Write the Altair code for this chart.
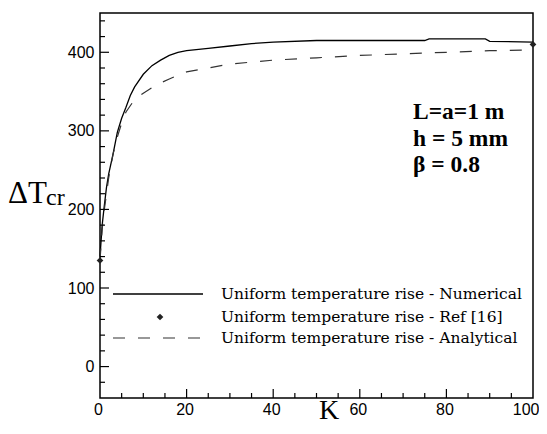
import altair as alt
import pandas as pd

# ---- data ----
num_k = [0, 0.5, 1, 1.5, 2, 3, 4, 5, 6, 7, 8, 10, 12, 14, 16, 18, 20, 25, 30, 35, 40, 50, 60, 70, 75, 76, 89, 90, 100]
num_v = [140, 180, 205, 228, 245, 270, 298, 316, 330, 345, 356, 372, 383, 390, 396, 400, 402, 405, 408, 411, 413, 415, 415, 415, 415, 417, 417, 414, 413]

ana_k = [0, 0.5, 1, 2, 3, 4, 5, 6, 8, 10, 12, 14, 16, 18, 20, 25, 30, 40, 50, 60, 70, 80, 90, 100]
ana_v = [135, 175, 200, 240, 270, 292, 310, 324, 340, 348, 355, 361, 366, 371, 375, 380, 385, 390, 393, 396, 398, 400, 402, 403]

ref_k = [0, 100]
ref_v = [135, 410]

x_major = [0, 20, 40, 60, 80, 100]
x_minor = [k for k in range(5, 100, 5) if k % 20 != 0]
y_major = [0, 100, 200, 300, 400]
y_minor = [v for v in range(-20, 441, 20) if v % 100 != 0]

legend_labels = ["Uniform temperature rise - Numerical",
                 "Uniform temperature rise - Ref [16]",
                 "Uniform temperature rise - Analytical"]
notes = ["L=a=1 m", "h = 5 mm", "β = 0.8"]

W, H = 433, 385
xs = alt.Scale(domain=[0, 100], nice=False, zero=False)
ys = alt.Scale(domain=[-40, 450], nice=False, zero=False)

num_df = pd.DataFrame({"K": num_k, "T": num_v})
ana_df = pd.DataFrame({"K": ana_k, "T": ana_v})
ref_df = pd.DataFrame({"K": ref_k, "T": ref_v})

xaxis = alt.Axis(values=x_major, tickSize=0, domain=False, grid=False, labelFont="Liberation Sans",
                 labelFontSize=16, labelColor="black", labelPadding=3, title=None, labelFlush=False,
                 labelAlign=alt.expr("datum.value == 100 ? 'right' : 'center'"),
                 labelOffset=alt.expr("datum.value == 100 ? 6 : -2"))
yaxis = alt.Axis(values=y_major, tickSize=0, domain=False, grid=False, labelFont="Liberation Sans",
                 labelFontSize=16, labelColor="black", labelPadding=6, title=None)

numerical = alt.Chart(num_df).mark_line(color="black", strokeWidth=1.3, interpolate="linear").encode(
    x=alt.X("K:Q", scale=xs, axis=xaxis),
    y=alt.Y("T:Q", scale=ys, axis=yaxis),
)
analytical = alt.Chart(ana_df).mark_line(color="#333333", strokeWidth=1.2, strokeDash=[12, 13]).encode(
    x=alt.X("K:Q", scale=xs), y=alt.Y("T:Q", scale=ys)
)
refpts = alt.Chart(ref_df).mark_point(shape="diamond", filled=True, color="#222222", size=45, opacity=1).encode(
    x=alt.X("K:Q", scale=xs), y=alt.Y("T:Q", scale=ys)
)

# inward ticks
xmaj = alt.Chart(pd.DataFrame({"K": x_major[1:-1]})).mark_rule(color="black", strokeWidth=1.2).encode(
    x=alt.X("K:Q", scale=xs), y=alt.value(H), y2=alt.value(H - 9))
xmin = alt.Chart(pd.DataFrame({"K": x_minor})).mark_rule(color="black", strokeWidth=1.2).encode(
    x=alt.X("K:Q", scale=xs), y=alt.value(H), y2=alt.value(H - 5))
ymaj = alt.Chart(pd.DataFrame({"T": y_major})).mark_rule(color="black", strokeWidth=1.2).encode(
    y=alt.Y("T:Q", scale=ys), x=alt.value(0), x2=alt.value(9))
ymin = alt.Chart(pd.DataFrame({"T": y_minor})).mark_rule(color="black", strokeWidth=1.2).encode(
    y=alt.Y("T:Q", scale=ys), x=alt.value(0), x2=alt.value(5))

# legend (drawn inside the plot)
leg_y = [281, 304, 325]
leg1 = alt.Chart(pd.DataFrame({"a": [0]})).mark_rule(color="black", strokeWidth=1.3).encode(
    x=alt.value(13), x2=alt.value(103), y=alt.value(leg_y[0]))
leg2 = alt.Chart(pd.DataFrame({"a": [0]})).mark_point(shape="diamond", filled=True, color="#222222", size=45, opacity=1).encode(
    x=alt.value(60), y=alt.value(leg_y[1]))
leg3 = alt.Chart(pd.DataFrame({"a": [0]})).mark_rule(color="#333333", strokeWidth=1.2, strokeDash=[12, 13]).encode(
    x=alt.value(13), x2=alt.value(103), y=alt.value(leg_y[2]))
leg_texts = [
    alt.Chart(pd.DataFrame({"t": [lab]})).mark_text(
        font="DejaVu Serif", fontSize=15.5, align="left", baseline="middle", color="black").encode(
        x=alt.value(121), y=alt.value(yy), text="t:N")
    for lab, yy in zip(legend_labels, leg_y)
]

note_y = [99, 126, 152]
note_texts = [
    alt.Chart(pd.DataFrame({"t": [n]})).mark_text(
        font="Liberation Serif", fontSize=23.5, fontWeight="bold", align="left", baseline="middle", color="black").encode(
        x=alt.value(313), y=alt.value(yy), text="t:N")
    for n, yy in zip(notes, note_y)
]

# axis titles
ytitle1 = alt.Chart(pd.DataFrame({"t": ["ΔT"]})).mark_text(
    font="Liberation Serif", fontSize=31, align="left", baseline="alphabetic", color="black").encode(
    x=alt.value(-92), y=alt.value(190), text="t:N")
ytitle2 = alt.Chart(pd.DataFrame({"t": ["cr"]})).mark_text(
    font="Liberation Serif", fontSize=24, align="left", baseline="alphabetic", color="black").encode(
    x=alt.value(-54), y=alt.value(192), text="t:N")
xtitle = alt.Chart(pd.DataFrame({"t": ["K"]})).mark_text(
    font="Liberation Serif", fontSize=28, align="center", baseline="bottom", color="black").encode(
    x=alt.value(229), y=alt.value(412), text="t:N")

chart = alt.layer(
    numerical, analytical, refpts, xmaj, xmin, ymaj, ymin,
    leg1, leg2, leg3, *leg_texts, *note_texts, ytitle1, ytitle2, xtitle
).properties(
    width=W, height=H,
    autosize=alt.AutoSizeParams(type="none"),
    padding={"left": 92, "top": 5, "right": 6, "bottom": 28},
).configure(
    background="white",
    view=alt.ViewConfig(stroke="black", strokeWidth=1.5),
)

chart.save("out.html", embed_options={"renderer": "svg", "actions": False})
